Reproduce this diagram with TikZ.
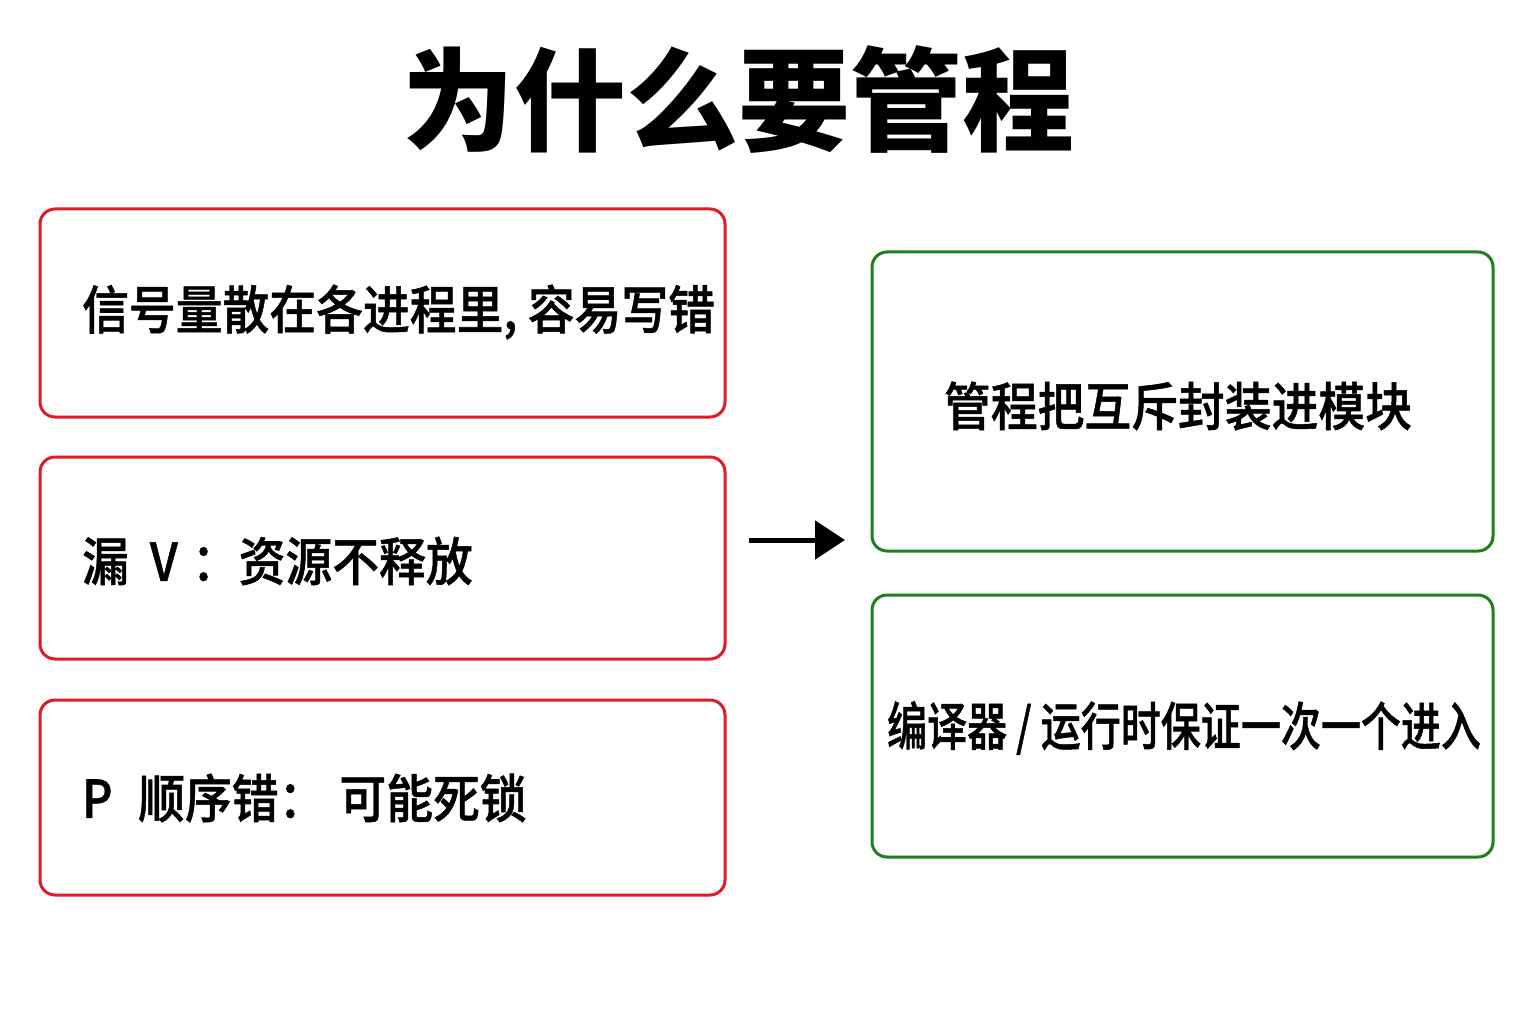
\documentclass[tikz,border=0pt]{standalone}
\usepackage{fontspec}
\setmainfont{Noto Sans CJK SC}
\newfontfamily\bodyfont{Noto Sans CJK SC}[UprightFont={* Medium},UprightFeatures={FakeBold=1}]
\usetikzlibrary{arrows.meta}
\definecolor{boxred}{RGB}{222,28,36}
\definecolor{boxgreen}{RGB}{28,128,28}
\begin{document}
\begin{tikzpicture}[x=1pt,y=-1pt,
  redbox/.style={draw=boxred,line width=3pt,rounded corners=15pt},
  greenbox/.style={draw=boxgreen,line width=3pt,rounded corners=15pt},
  bodytext/.style={font=\fontsize{52}{60}\selectfont\bodyfont,inner sep=0pt,xscale=0.9,transform shape},
  titletext/.style={font=\fontsize{112}{130}\selectfont\bfseries,inner sep=0pt}]
\useasboundingbox[fill=white] (0,0) rectangle (1536,1024);
\node[titletext] (title) at (738,100) {为什么要管程};
\draw[redbox] (40,209) rectangle (725,417);
\draw[redbox] (40,457) rectangle (725,659);
\draw[redbox] (40,700) rectangle (725,895);
\draw[greenbox] (872,252) rectangle (1493,551);
\draw[greenbox] (872,595) rectangle (1493,857);
\node[bodytext,anchor=west] (t1) at (82,312) {信号量散在各进程里, 容易写错};
\node[bodytext,anchor=west] (t2) at (82,561) {漏\hspace{0.45em}V\hspace{0.3em}：资源不释放};
\node[bodytext,anchor=west] (t3) at (82,798) {P\hspace{0.55em}顺序错：\hspace{0.3em}可能死锁};
\node[bodytext] (t4) at (1178,406) {管程把互斥封装进模块};
\node[bodytext,xscale=0.855] (t5) at (1184,728) {编译器 / 运行时保证一次一个进入};
\coordinate (a1) at (749,540);
\coordinate (a2) at (845,540);
\draw[line width=5pt,-{Triangle[length=30pt,width=38pt]}] (a1) -- (a2);
\end{tikzpicture}
\end{document}
